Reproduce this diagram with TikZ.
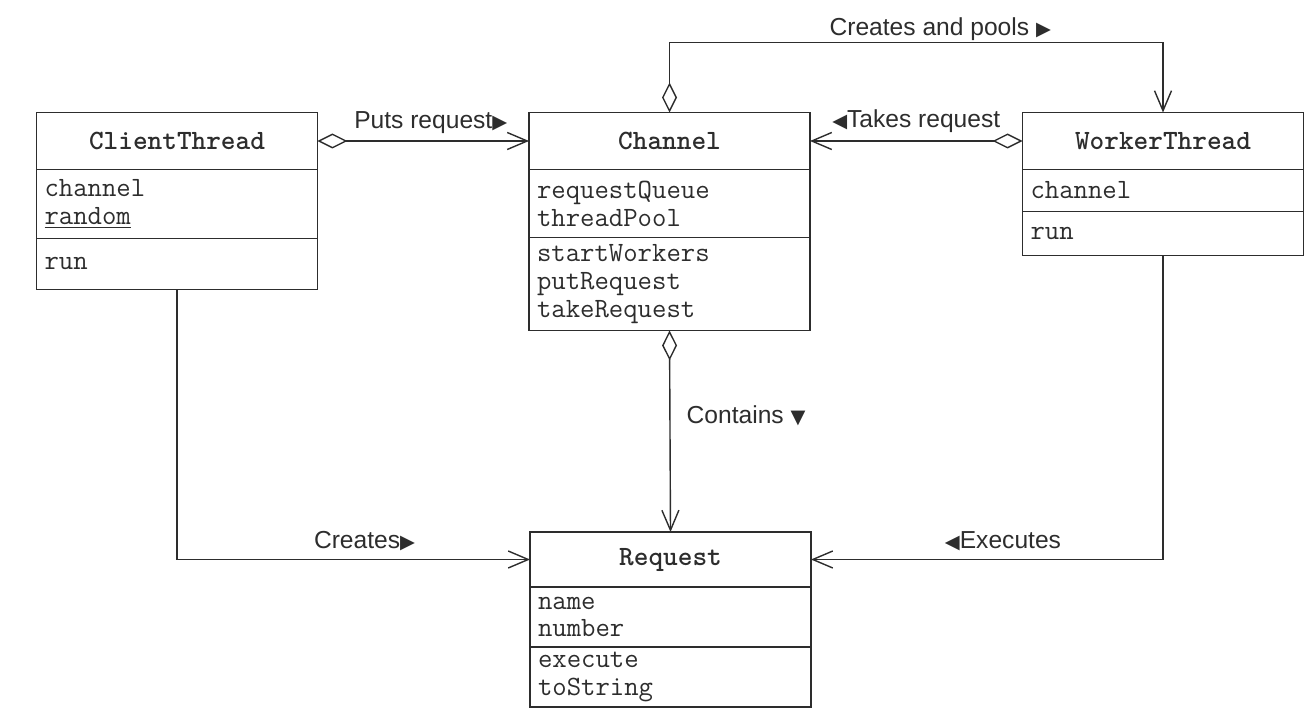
\documentclass[tikz,border=0pt]{standalone}
\usepackage{fontspec}
\setmainfont{Liberation Sans}
\newfontfamily\symfont{DejaVu Sans}
\usetikzlibrary{positioning,arrows.meta,calc}

\definecolor{ink}{RGB}{45,45,45}

% small role triangles
\newcommand{\rolR}{{\symfont\fontsize{11}{11}\selectfont ▶}}
\newcommand{\rolL}{{\symfont\fontsize{11}{11}\selectfont ◀}}
\newcommand{\rolD}{{\symfont\fontsize{11}{11}\selectfont ▼}}

\tikzset{
    classname/.style={draw=ink, text=ink, line width=0.8pt, outer sep=0pt,
        minimum width=5.62cm, minimum height=1.14cm,
        font=\ttfamily\bfseries\fontsize{15.9}{15.9}\selectfont},
    members/.style={draw=ink, text=ink, line width=0.8pt, outer sep=0pt,
        minimum width=5.62cm, text width=5.3cm, inner xsep=0.16cm, inner ysep=0pt,
        align=left, font=\ttfamily\fontsize{15.9}{15.9}\selectfont},
    aggr/.style={draw=ink, line width=0.8pt,
        {Diamond[open,length=0.6cm,width=0.3cm]}-{Straight Barb[length=0.4cm,width=0.34cm]}},
    assoc/.style={draw=ink, line width=0.8pt,
        -{Straight Barb[length=0.4cm,width=0.34cm]}},
    rolelabel/.style={text=ink, inner sep=0pt, font=\fontsize{14}{16}\selectfont}
}

\begin{document}
\begin{tikzpicture}[x=0.02cm, y=-0.02cm]
    \useasboundingbox (0,0) rectangle (1312,716);

    % ClientThread
    \node[classname] (ct) at (177,141) {ClientThread};
    \node[members, minimum height=1.38cm, below=0pt of ct] (ct-a) {channel\\\underline{random}};
    \node[members, minimum height=1.02cm, below=0pt of ct-a] (ct-m) {run};

    % Channel
    \node[classname] (ch) at (669.5,141) {Channel};
    \node[members, minimum height=1.36cm, below=0pt of ch] (ch-a) {requestQueue\\threadPool};
    \node[members, minimum height=1.86cm, below=0pt of ch-a] (ch-m) {startWorkers\\putRequest\\takeRequest};

    % WorkerThread
    \node[classname] (wt) at (1163,141) {WorkerThread};
    \node[members, minimum height=0.84cm, below=0pt of wt] (wt-a) {channel};
    \node[members, minimum height=0.88cm, below=0pt of wt-a] (wt-m) {run};

    % Request
    \node[classname, minimum height=1.1cm] (rq) at (670.5,559.5) {Request};
    \node[members, minimum height=1.2cm, below=0pt of rq,
        font=\ttfamily\fontsize{15.9}{15.4}\selectfont] (rq-a) {name\\number};
    \node[members, minimum height=1.2cm, below=0pt of rq-a,
        font=\ttfamily\fontsize{15.9}{15.4}\selectfont] (rq-m) {execute\\toString};

    % associations
    \draw[aggr] (ct.east) -- node[rolelabel, midway, anchor=base, xshift=0.15cm, yshift=0.26cm] {Puts request\rolR} (ch.west);
    \draw[aggr] (wt.west) -- node[rolelabel, midway, anchor=base, yshift=0.28cm] {\rolL Takes request} (ch.east);
    \draw[aggr] (ch.north) -- ++(0,-70) -| node[rolelabel, pos=0.25, anchor=base, xshift=0.48cm, yshift=0.14cm] {Creates and pools \rolR} (wt.north);
    \draw[aggr] (ch-m.south) -- node[rolelabel, midway, anchor=base west, xshift=0.32cm, yshift=0.15cm] {Contains \rolD} (rq.north);
    \draw[assoc] (ct-m.south) |- node[rolelabel, pos=0.75, anchor=base, xshift=0.22cm, yshift=0.22cm] {Creates\rolR} (rq.west);
    \draw[assoc] (wt-m.south) |- node[rolelabel, pos=0.75, anchor=base, xshift=0.32cm, yshift=0.22cm] {\rolL Executes} (rq.east);
\end{tikzpicture}
\end{document}
